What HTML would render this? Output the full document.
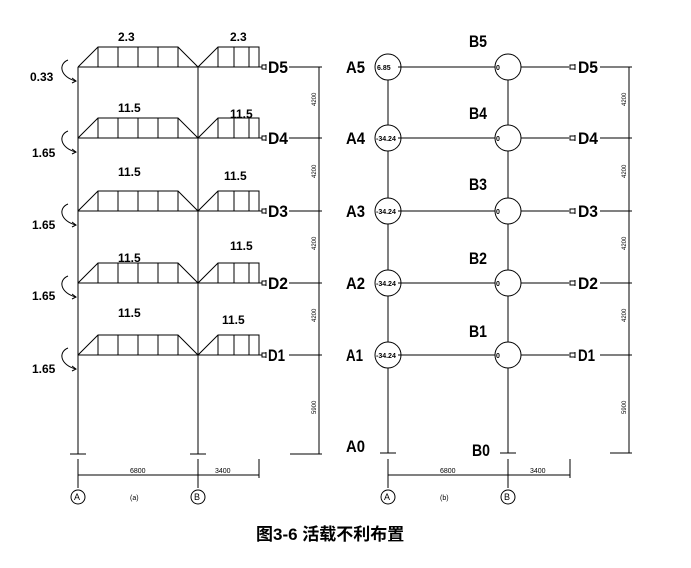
<!DOCTYPE html>
<html><head><meta charset="utf-8"><style>
html,body{margin:0;padding:0;background:#fff;}
svg{display:block}
text{font-family:"Liberation Sans","Noto Sans CJK SC",sans-serif;fill:#000}
.b{font-weight:bold}
</style></head><body>
<svg width="691" height="568" viewBox="0 0 691 568" xmlns="http://www.w3.org/2000/svg">
<defs>
<g id="fl" stroke="#000" stroke-width="1" fill="none">
<line x1="78" y1="0" x2="259" y2="0"/>
<polyline points="78,0 98,-20 178,-20 198,0 218,-20 259,-20 259,0"/>
<line x1="98" y1="-20" x2="98" y2="0"/><line x1="118" y1="-20" x2="118" y2="0"/><line x1="138" y1="-20" x2="138" y2="0"/><line x1="158" y1="-20" x2="158" y2="0"/><line x1="178" y1="-20" x2="178" y2="0"/>
<line x1="218" y1="-20" x2="218" y2="0"/><line x1="234" y1="-20" x2="234" y2="0"/><line x1="249" y1="-20" x2="249" y2="0"/>
<line x1="259" y1="0" x2="262" y2="0"/><rect x="262" y="-2" width="4" height="4"/><line x1="266" y1="-3" x2="266" y2="3"/>
<line x1="289" y1="0" x2="322" y2="0"/>
<path d="M68,-7 C58,-3 60,10 76,14"/><path d="M72,11 L76,14 L72,16"/>
</g>
<g id="rf" stroke="#000" stroke-width="1" fill="none">
<circle cx="388" cy="0" r="13"/><circle cx="508" cy="0" r="13"/>
<line x1="398" y1="0" x2="495" y2="0"/>
<line x1="521" y1="0" x2="569" y2="0"/>
<rect x="570" y="-2" width="5" height="4"/><line x1="575" y1="-3" x2="575" y2="3"/>
<line x1="600" y1="0" x2="632" y2="0"/>
</g>
</defs>
<g stroke="#000" stroke-width="1" fill="none">
<line x1="78" y1="67" x2="78" y2="454"/>
<line x1="198" y1="67" x2="198" y2="454"/>
<line x1="70" y1="454" x2="86" y2="454"/>
<line x1="190" y1="454" x2="206" y2="454"/>
<use href="#fl" transform="translate(0,67)"/>
<use href="#fl" transform="translate(0,138)"/>
<use href="#fl" transform="translate(0,211)"/>
<use href="#fl" transform="translate(0,283)"/>
<use href="#fl" transform="translate(0,355)"/>
<line x1="319" y1="67" x2="319" y2="454"/>
<line x1="290" y1="454" x2="322" y2="454"/>
<line x1="78" y1="475" x2="259" y2="475"/>
<line x1="78" y1="459" x2="78" y2="488"/><line x1="198" y1="459" x2="198" y2="488"/><line x1="259" y1="459" x2="259" y2="478"/>
<circle cx="78" cy="497" r="7"/><circle cx="198" cy="497" r="7"/>

<use href="#rf" transform="translate(0,67)"/>
<use href="#rf" transform="translate(0,138)"/>
<use href="#rf" transform="translate(0,211)"/>
<use href="#rf" transform="translate(0,283)"/>
<use href="#rf" transform="translate(0,355)"/>
<line x1="388" y1="80" x2="388" y2="125"/><line x1="388" y1="151" x2="388" y2="198"/><line x1="388" y1="224" x2="388" y2="270"/><line x1="388" y1="296" x2="388" y2="342"/><line x1="388" y1="368" x2="388" y2="453"/>
<line x1="508" y1="80" x2="508" y2="125"/><line x1="508" y1="151" x2="508" y2="198"/><line x1="508" y1="224" x2="508" y2="270"/><line x1="508" y1="296" x2="508" y2="342"/><line x1="508" y1="368" x2="508" y2="453"/>
<line x1="380" y1="453" x2="396" y2="453"/><line x1="500" y1="453" x2="516" y2="453"/>
<line x1="629" y1="67" x2="629" y2="453"/><line x1="610" y1="453" x2="632" y2="453"/>
<line x1="388" y1="475" x2="570" y2="475"/>
<line x1="388" y1="459" x2="388" y2="488"/><line x1="508" y1="459" x2="508" y2="488"/><line x1="570" y1="459" x2="570" y2="478"/>
<circle cx="388" cy="497" r="7"/><circle cx="508" cy="497" r="7"/>
</g>
<g class="b" font-size="12">
<text x="118" y="41">2.3</text><text x="230" y="41">2.3</text>
<text x="118" y="112">11.5</text><text x="230" y="118">11.5</text>
<text x="118" y="176">11.5</text><text x="224" y="180">11.5</text>
<text x="118" y="262">11.5</text><text x="230" y="250">11.5</text>
<text x="118" y="317">11.5</text><text x="222" y="324">11.5</text>
<text x="30" y="81">0.33</text>
<text x="32" y="157">1.65</text><text x="32" y="229">1.65</text><text x="32" y="300">1.65</text><text x="32" y="373">1.65</text>
</g>
<g class="b" font-size="17">
<text x="268" y="73" textLength="20" lengthAdjust="spacingAndGlyphs">D5</text>
<text x="268" y="144" textLength="20" lengthAdjust="spacingAndGlyphs">D4</text>
<text x="268" y="217" textLength="20" lengthAdjust="spacingAndGlyphs">D3</text>
<text x="268" y="289" textLength="20" lengthAdjust="spacingAndGlyphs">D2</text>
<text x="268" y="361" textLength="17" lengthAdjust="spacingAndGlyphs">D1</text>
<text x="578" y="73" textLength="20" lengthAdjust="spacingAndGlyphs">D5</text>
<text x="578" y="144" textLength="20" lengthAdjust="spacingAndGlyphs">D4</text>
<text x="578" y="217" textLength="20" lengthAdjust="spacingAndGlyphs">D3</text>
<text x="578" y="289" textLength="20" lengthAdjust="spacingAndGlyphs">D2</text>
<text x="578" y="361" textLength="17" lengthAdjust="spacingAndGlyphs">D1</text>
<text x="346" y="73" textLength="19" lengthAdjust="spacingAndGlyphs">A5</text>
<text x="346" y="144" textLength="19" lengthAdjust="spacingAndGlyphs">A4</text>
<text x="346" y="217" textLength="19" lengthAdjust="spacingAndGlyphs">A3</text>
<text x="346" y="289" textLength="19" lengthAdjust="spacingAndGlyphs">A2</text>
<text x="346" y="361" textLength="17" lengthAdjust="spacingAndGlyphs">A1</text>
<text x="346" y="452" textLength="19" lengthAdjust="spacingAndGlyphs">A0</text>
<text x="469" y="47" textLength="18" lengthAdjust="spacingAndGlyphs">B5</text>
<text x="469" y="119" textLength="18" lengthAdjust="spacingAndGlyphs">B4</text>
<text x="469" y="190" textLength="18" lengthAdjust="spacingAndGlyphs">B3</text>
<text x="469" y="264" textLength="18" lengthAdjust="spacingAndGlyphs">B2</text>
<text x="469" y="337" textLength="18" lengthAdjust="spacingAndGlyphs">B1</text>
<text x="472" y="456" textLength="18" lengthAdjust="spacingAndGlyphs">B0</text>
</g>
<g font-size="7" class="b">
<text x="377" y="70">6.85</text>
<text x="376" y="141">-34.24</text><text x="376" y="214">-34.24</text><text x="376" y="286">-34.24</text><text x="376" y="358">-34.24</text>
<text x="496" y="70">0</text><text x="496" y="141">0</text><text x="496" y="214">0</text><text x="496" y="286">0</text><text x="496" y="358">0</text>
</g>
<g font-size="7">
<text x="130" y="473">6800</text><text x="215" y="473">3400</text>
<text x="440" y="473">6800</text><text x="530" y="473">3400</text>
<text x="130" y="500">(a)</text><text x="440" y="500">(b)</text>
<text x="74" y="500" font-size="9">A</text><text x="194" y="500" font-size="9">B</text>
<text x="384" y="500" font-size="9">A</text><text x="504" y="500" font-size="9">B</text>
<g font-size="6">
<text transform="translate(316,106) rotate(-90)">4200</text>
<text transform="translate(316,178) rotate(-90)">4200</text>
<text transform="translate(316,250) rotate(-90)">4200</text>
<text transform="translate(316,322) rotate(-90)">4200</text>
<text transform="translate(316,414) rotate(-90)">5900</text>
<text transform="translate(626,106) rotate(-90)">4200</text>
<text transform="translate(626,178) rotate(-90)">4200</text>
<text transform="translate(626,250) rotate(-90)">4200</text>
<text transform="translate(626,322) rotate(-90)">4200</text>
<text transform="translate(626,414) rotate(-90)">5900</text>
</g>
</g>
<text x="256" y="540" font-size="17" class="b">图3-6 活载不利布置</text>
</svg>
</body></html>
